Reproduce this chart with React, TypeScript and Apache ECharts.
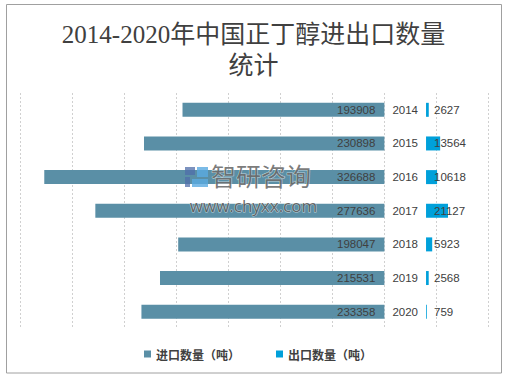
import React, { useEffect, useRef } from "react";
import * as echarts from "echarts";

const years = ["2014", "2015", "2016", "2017", "2018", "2019", "2020"];
const importValues = [193908, 230898, 326688, 277636, 198047, 215531, 233358];
const exportValues = [2627, 13564, 10618, 21127, 5923, 2568, 759];
const spacerValues = [40000, 40000, 40000, 40000, 40000, 40000, 40000];
const seriesNames = ["进口数量（吨）", "出口数量（吨）"];
const titleText = "2014-2020年中国正丁醇进出口数量\n统计";

const importColor = "#5A8FA6";
const exportColor = "#00A0DA";
const textColor = "#404040";
const labelFont = "'Liberation Sans', 'Noto Sans', sans-serif";

export default function App() {
  const ref = useRef<HTMLDivElement>(null);
  useEffect(() => {
    if (!ref.current) return;
    const chart = echarts.init(ref.current, null, { renderer: "svg" });
    chart.setOption({
      animation: false,
      backgroundColor: "#ffffff",
      title: {
        text: titleText,
        left: "center",
        top: 14,
        textStyle: {
          fontSize: 25,
          lineHeight: 31,
          fontWeight: "normal",
          color: textColor,
          fontFamily: "'Liberation Serif', 'Noto Sans CJK SC', serif",
        },
      },
      legend: {
        data: seriesNames,
        bottom: 12,
        left: 139,
        icon: "rect",
        itemWidth: 7,
        itemHeight: 7,
        itemGap: 36,
        textStyle: {
          fontSize: 12,
          fontWeight: "bold",
          color: textColor,
          fontFamily: "'Noto Sans CJK SC', sans-serif",
        },
      },
      grid: { left: 20, right: 18.5, top: 93, bottom: 48.5, containLabel: false },
      xAxis: {
        type: "value",
        min: -350000,
        max: 100000,
        interval: 50000,
        axisLabel: { show: false },
        axisLine: { show: false },
        axisTick: { show: false },
        splitLine: { show: true, lineStyle: { color: "#D0D0D0", type: [2, 2], width: 1 } },
      },
      yAxis: {
        type: "category",
        data: years,
        inverse: true,
        axisLabel: { show: false },
        axisLine: { show: false },
        axisTick: { show: false },
        splitLine: { show: false },
      },
      series: [
        {
          name: seriesNames[0],
          type: "bar",
          stack: "all",
          barWidth: 14,
          data: importValues.map((v) => -v),
          itemStyle: { color: importColor },
          label: {
            show: true,
            position: "insideRight",
            distance: 9,
            formatter: (p: any) => String(Math.abs(p.value)),
            color: textColor,
            fontSize: 11.5,
            fontFamily: labelFont,
          },
        },
        {
          name: "spacer",
          type: "bar",
          stack: "all",
          barWidth: 14,
          data: spacerValues,
          silent: true,
          itemStyle: { color: "rgba(0,0,0,0)" },
          label: {
            show: true,
            position: "inside",
            formatter: (p: any) => p.name,
            color: textColor,
            fontSize: 11.5,
            fontFamily: labelFont,
          },
        },
        {
          name: seriesNames[1],
          type: "bar",
          stack: "all",
          barWidth: 14,
          data: exportValues,
          itemStyle: { color: exportColor },
          label: {
            show: true,
            position: "insideLeft",
            distance: 8,
            color: textColor,
            fontSize: 11.5,
            fontFamily: labelFont,
          },
        },
      ],
      graphic: [
        {
          type: "rect",
          shape: { x: 6.5, y: 4.5, width: 495, height: 368.5 },
          style: { fill: "none", stroke: "#A0A0A0", lineWidth: 1 },
          silent: true,
          z: 0,
        },
        { type: "rect", z: 100, silent: true, shape: { x: 185, y: 167, width: 10, height: 8 }, style: { fill: "rgba(80,110,170,0.75)" } },
        { type: "rect", z: 100, silent: true, shape: { x: 185, y: 177, width: 5, height: 10 }, style: { fill: "rgba(80,110,170,0.75)" } },
        { type: "rect", z: 100, silent: true, shape: { x: 197, y: 167, width: 11, height: 10 }, style: { fill: "rgba(90,170,225,0.8)" } },
        { type: "rect", z: 100, silent: true, shape: { x: 192, y: 179, width: 16, height: 8 }, style: { fill: "rgba(90,170,225,0.8)" } },
        {
          type: "text",
          z: 100,
          silent: true,
          x: 211,
          y: 175,
          style: {
            text: "智研咨询",
            fontSize: 25,
            fontFamily: "'Noto Sans CJK SC', sans-serif",
            fill: "rgba(100,100,100,0.85)",
            stroke: "rgba(255,255,255,0.6)",
            lineWidth: 1,
            verticalAlign: "middle",
            align: "left",
          },
        },
        {
          type: "text",
          z: 100,
          silent: true,
          x: 253.5,
          y: 205,
          style: {
            text: "www.chyxx.com",
            fontSize: 17,
            fontFamily: "'Open Sans', sans-serif",
            fill: "rgba(80,80,80,0.85)",
            stroke: "rgba(255,255,255,0.6)",
            lineWidth: 1,
            verticalAlign: "middle",
            align: "center",
          },
        },
      ],
    });
    return () => chart.dispose();
  }, []);
  return (
    <div
      ref={ref}
      style={{ position: "fixed", left: 0, top: 0, width: 507, height: 377 }}
    />
  );
}
